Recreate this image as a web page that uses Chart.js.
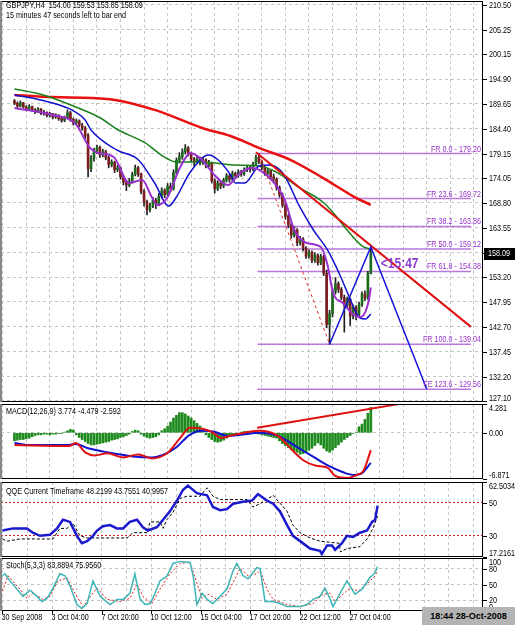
<!DOCTYPE html>
<html>
<head>
<meta charset="utf-8">
<script src="https://cdn.jsdelivr.net/npm/chart.js@4.4.0/dist/chart.umd.min.js"></script>
<style>
html, body { margin: 0; padding: 0; background: #fff; }
#wrap { position: relative; width: 515px; height: 625px; overflow: hidden;
  font-family: 'Liberation Sans', Arial, sans-serif; }
canvas { position: absolute; left: 0; }
.lbl { position: absolute; left: 6px; font-size: 9px; line-height: 10px; color: #000; white-space: pre;
  transform: scaleX(0.8); transform-origin: 0 0; }
#clock { position: absolute; left: 422px; top: 607px; width: 93px; height: 18px; background: #b4b4b4;
  font: bold 9px 'Liberation Sans', Arial, sans-serif; line-height: 18px; text-align: center; color: #000; }
</style>
</head>
<body>
<div id="wrap">
  <canvas id="cMain" width="515" height="404" style="top:0"></canvas>
  <canvas id="cMacd" width="515" height="77" style="top:403px"></canvas>
  <canvas id="cQqe" width="515" height="78" style="top:480px"></canvas>
  <canvas id="cStoch" width="515" height="68" style="top:557px"></canvas>
  <div class="lbl" style="top:0">GBPJPY,H4  154.00 159.53 153.85 158.09</div>
  <div class="lbl" style="top:10px">15 minutes 47 seconds left to bar end</div>
  <div class="lbl" style="top:406px">MACD(12,26,9) 3.774 -4.479 -2.592</div>
  <div class="lbl" style="top:486px">QQE Current Timeframe 48.2199 43.7551 40.9957</div>
  <div class="lbl" style="top:560px">Stoch(5,3,3) 83.8894 75.9560</div>
  <div id="clock">18:44 28-Oct-2008</div>
</div>
<script>
const FONT = "'Liberation Sans',Arial,sans-serif";
const TEXT_SX = 0.8; // MT4 labels are narrower than Arial

// x axis: bar index, 16 bars between time labels
const X_MIN = -0.48, X_MAX = 155;
const X_LABELS = ['30 Sep 2008', '3 Oct 04:00', '7 Oct 20:00', '10 Oct 12:00', '15 Oct 04:00', '17 Oct 20:00', '22 Oct 12:00', '27 Oct 04:00'];

// GBPJPY H4 candles
const OPEN = [
  190.3,189.8,189.2,189.9,189.0,188.6,189.1,188.4,188.0,188.6,
  187.7,187.9,187.2,187.6,186.9,187.3,186.6,186.2,186.8,187.8,
  186.4,185.6,186.1,185.2,184.6,183.0,176.0,178.2,179.8,180.5,
  178.9,179.6,178.4,176.9,177.4,175.8,176.2,174.3,173.2,172.6,
  173.4,174.8,176.2,174.9,171.2,169.0,167.4,168.2,169.4,168.6,
  170.2,171.4,170.6,172.3,171.8,175.2,177.8,178.6,179.6,180.4,
  179.2,178.0,177.4,178.2,177.3,177.9,176.8,177.2,173.5,171.8,
  173.0,172.4,173.6,174.5,173.8,175.0,174.6,175.4,174.9,175.8,
  176.3,175.9,177.0,178.4,177.5,176.2,175.0,175.6,174.3,173.8,
  172.0,170.5,168.4,166.0,164.2,162.0,163.1,160.4,161.2,159.3,
  157.6,158.4,156.7,157.8,156.2,157.5,154.0,143.2,145.5,150.2,
  151.8,150.6,148.9,147.2,148.5,145.0,146.8,145.3,147.4,149.6,
  148.8,154.00];
const HIGH = [
  190.6,190.1,190.3,190.0,189.3,189.5,189.2,188.7,188.9,188.7,
  188.3,188.0,187.9,187.7,187.6,187.4,186.9,187.1,188.4,188.1,
  186.7,186.5,186.3,185.6,184.9,183.4,178.8,180.3,181.0,180.8,
  180.1,179.9,178.7,177.9,177.6,176.8,176.4,174.6,173.6,174.0,
  175.3,176.8,176.5,175.1,171.6,169.4,168.8,170.0,169.8,170.8,
  172.0,171.8,172.9,173.0,175.8,178.3,179.4,180.2,181.1,180.7,
  179.5,178.4,178.8,178.5,178.4,178.1,177.8,177.4,173.9,173.5,
  173.3,174.0,175.0,174.8,175.5,175.3,175.8,175.7,176.2,176.8,
  176.6,177.4,178.9,179.2,177.8,176.5,176.0,175.8,174.9,174.1,
  172.4,170.9,168.8,166.4,164.6,163.8,163.4,161.8,161.5,159.6,
  158.9,158.7,158.3,158.1,158.0,157.8,154.7,146.2,150.9,153.1,
  152.2,151.0,149.4,149.0,148.8,147.3,147.2,147.9,150.1,150.3,
  154.4,159.53];
const LOW = [
  189.5,188.9,189.0,188.8,188.2,188.4,188.1,187.6,187.8,187.4,
  187.3,186.9,186.9,186.5,186.6,186.2,185.8,185.9,186.5,186.0,
  185.2,185.3,184.8,184.1,182.4,174.3,175.4,177.6,179.2,178.4,
  178.5,177.9,176.2,176.4,175.2,175.4,173.8,172.6,171.4,172.2,
  173.0,174.5,174.4,170.7,168.2,166.3,166.9,167.8,167.6,168.2,
  169.8,169.9,170.3,171.2,171.5,174.8,177.2,178.0,179.1,178.7,
  177.5,176.6,177.0,176.8,176.9,176.2,176.4,173.0,170.9,171.4,
  171.8,172.0,173.2,173.2,173.5,174.0,174.2,174.4,174.6,175.4,
  175.3,175.6,176.7,177.1,175.8,174.6,174.7,173.9,173.3,171.5,
  170.0,167.9,165.4,163.6,161.4,161.6,159.8,159.9,158.7,157.1,
  157.2,156.2,156.3,155.7,155.8,153.5,142.5,139.04,144.8,149.6,
  149.9,148.4,141.6,146.6,143.0,144.4,144.2,144.9,147.0,148.2,
  148.5,153.85];
const CLOSE = [
  189.8,189.2,189.9,189.0,188.6,189.1,188.4,188.0,188.6,187.7,
  187.9,187.2,187.6,186.9,187.3,186.6,186.2,186.8,187.8,186.4,
  185.6,186.1,185.2,184.6,183.0,176.0,178.2,179.8,180.5,178.9,
  179.6,178.4,176.9,177.4,175.8,176.2,174.3,173.2,172.6,173.4,
  174.8,176.2,174.9,171.2,169.0,167.4,168.2,169.4,168.6,170.2,
  171.4,170.6,172.3,171.8,175.2,177.8,178.6,179.6,180.4,179.2,
  178.0,177.4,178.2,177.3,177.9,176.8,177.2,173.5,171.8,173.0,
  172.4,173.6,174.5,173.8,175.0,174.6,175.4,174.9,175.8,176.3,
  175.9,177.0,178.4,177.5,176.2,175.0,175.6,174.3,173.8,172.0,
  170.5,168.4,166.0,164.2,162.0,163.1,160.4,161.2,159.3,157.6,
  158.4,156.7,157.8,156.2,157.5,154.0,143.2,145.5,150.2,151.8,
  150.6,148.9,147.2,148.5,145.0,146.8,145.3,147.4,149.6,148.8,
  154.0,158.09];

// moving averages [bar, price]
const RED_MA = [[0,191.55],[13,191.1],[31.5,190.7],[47.6,188.4],[63.7,184.6],[73.4,182.9],[83,180.4],[93.7,177.9],[104.7,174.1],[115.3,170.1],[121,168.4]];
const GREEN_MA = [[0,192.81],[9.8,191.55],[20.8,189.02],[29.2,186.7],[34.7,184.38],[44.4,181.44],[50.8,178.49],[55,177.43],[63.7,177.43],[74.4,176.8],[83.1,176.59],[89.5,175.12],[96.9,171.96],[104.7,169.0],[108.9,166.27],[112.1,163.74],[118.5,159.53],[121,159.11]];
const BLUE_MA = [[0,191.55],[8.9,190.5],[19.5,188.39],[24,186.28],[26,184.17],[34.7,179.96],[42.1,177.86],[47.6,173.01],[52.4,168.17],[55,170.06],[59.5,175.12],[66,178.91],[69.2,177.86],[73.4,174.7],[75,173.01],[78.2,173.01],[83.1,176.6],[86.3,176.8],[91.1,175.12],[96.9,167.96],[101.5,163.11],[106.3,158.9],[110.5,153.63],[113.7,149.0],[117.3,144.58],[119.2,144.37],[121,145.42]];
const PURPLE_MA = [[0,188.81],[13,187.33],[20.8,185.4],[25.5,180.5],[28,179.4],[33.7,178.49],[38.9,173.01],[43.4,173.64],[46.6,170.06],[48.5,168.38],[51.8,169.85],[56.3,176.38],[59.8,179.33],[63.7,177.86],[67.9,174.7],[72.4,172.59],[76.6,175.12],[80.8,176.17],[83.1,175.75],[87.3,173.64],[91.8,169.43],[95,163.11],[99.2,160.37],[104,159.53],[106.3,155.74],[108.2,149.84],[111.5,147.74],[115.3,145.21],[117.6,144.79],[120.2,147.95],[121,151.0]];

// drawn objects
const TREND = [[82,179.5],[155,142.7]];
const FIB_DIAG = [[83,179.20],[107,139.04]];
const PROJ = [[107,139.04],[121,159.53],[140,129.56]];
const FIB_START = 82.5;
const FIB_NAMES = ['FR 0.0', 'FR 23.6', 'FR 38.2', 'FR 50.0', 'FR 61.8', 'FR 100.0', 'FE 123.6'];
const FIB_LEVELS = [179.20, 169.72, 163.86, 159.12, 154.38, 139.04, 129.56];
const TIMER_TEXT = '<15:47';

const MAIN_MIN = 126.88, MAIN_MAX = 211.34;
const MAIN_TICKS = [210.50, 205.25, 200.15, 194.90, 189.65, 184.40, 179.15, 174.05, 168.80, 163.55, 158.30, 153.20, 147.95, 142.70, 137.45, 132.20, 127.10];

// MACD(12,26,9)
const MACD_MIN = -6.871, MACD_MAX = 4.281;
const MACD_HIST = [
  -1.2,-1.1,-1.0,-1.0,-0.9,-0.8,-0.6,
  -0.4,-0.3,-0.3,-0.2,-0.2,-0.3,-0.2,-0.2,-0.1,-0.1,0.1,
  0.3,0.5,0.4,
  -0.3,-0.7,-1.0,-1.3,-1.6,-1.8,-1.8,-1.7,-1.6,-1.5,-1.4,-1.3,-1.1,-1.0,-0.9,-0.7,-0.6,-0.4,-0.2,
  0.2,0.4,0.3,
  -0.2,-0.5,-0.7,-0.8,-0.7,-0.6,-0.3,
  0.3,0.6,1.0,1.6,2.2,2.6,3.0,3.0,2.8,2.5,2.2,1.8,1.4,1.0,0.6,
  -0.3,-0.7,-1.0,-1.3,-1.4,-1.3,-1.1,-0.8,-0.5,
  -0.3,-0.2,-0.1,0.1,0.2,0.2,0.1,0.1,-0.1,-0.2,
  -0.3,-0.4,-0.5,-0.6,-0.7,-0.8,-1.2,-1.6,-1.9,-2.2,-2.5,-2.7,-2.9,-3.2,-3.1,-2.9,-2.6,-2.3,-1.9,-1.5,
  -1.8,-2.3,-2.7,-2.9,-2.6,-2.2,-1.8,-1.4,-1.0,-0.7,-0.4,-0.1,0.1,0.9,1.3,2.0,2.9,3.774];
const MACD_BLUE = [[0,-1.53],[5.6,-1.83],[18.5,-1.83],[20.8,-1.68],[25,-2.29],[31.5,-2.9],[40.2,-3.51],[46.6,-3.66],[50.8,-3.21],[55,-2.14],[59.5,-0.31],[63.7,0.31],[67.9,0.15],[72.4,-0.46],[76.6,-0.31],[83.1,0],[89.5,-0.46],[96,-2.14],[102.4,-3.82],[106.6,-4.89],[112.1,-5.95],[115.3,-6.26],[117.6,-6.11],[121,-4.48]];
const MACD_RED = [[0,-1.83],[18.5,-1.98],[20.8,-1.53],[24,-2.9],[27.3,-3.36],[31.5,-3.05],[36.9,-3.66],[42.1,-3.21],[46.6,-3.82],[51.8,-3.05],[56.3,-0.76],[59.5,0.76],[63.7,0.61],[66.9,0.15],[70.2,-0.76],[74.4,-0.31],[83.1,0.31],[89.5,-0.46],[93.7,-2.29],[98.2,-4.12],[102.4,-4.89],[106.3,-5.19],[108.9,-6.41],[113.1,-6.72],[116.3,-6.26],[118.5,-5.65],[121,-2.59]];
const MACD_TREND = [[82.4,0.76],[130.5,4.27]];

// QQE
const QQE_MIN = 17.2161, QQE_MAX = 62.5034;
const QQE_LEVELS = [50, 30];
const QQE_RSI = [[0,33.2],[3.4,34.5],[7.9,34.5],[9.8,31.9],[12.1,30.0],[15.3,30.6],[17.6,34.5],[19.5,39.7],[21.8,38.4],[24,30.0],[25.6,25.5],[27.3,26.8],[29.2,30.0],[30.5,33.2],[32.4,35.8],[34.7,36.5],[36.9,34.5],[38.9,34.5],[41.1,38.4],[43.4,39.7],[45.3,35.2],[46.9,33.2],[49.8,35.2],[51.8,39.7],[54,44.8],[56.3,51.3],[58.2,57.7],[59.8,60.3],[62.7,55.8],[66,54.5],[67.9,47.4],[70.2,45.5],[72.4,46.1],[74.4,49.4],[77.6,50.6],[80.5,51.3],[82.4,55.2],[85.3,51.3],[87.3,49.4],[89.5,44.8],[91.8,36.5],[93.7,30.0],[96,26.8],[99.2,22.3],[102.4,21.0],[103,19.0],[104.7,24.2],[106.3,24.2],[107.3,21.6],[109.5,25.5],[111.1,30.0],[113.1,29.4],[115.3,31.9],[117.6,33.2],[119.2,38.4],[120.2,39.7],[121,48.22]];
const QQE_TRAIL = [[0,28.1],[1.5,26.8],[5.6,28.1],[16.3,28.1],[18.5,34.5],[20.8,34.5],[22.7,37.7],[25,30.0],[27.3,28.7],[40.2,28.7],[42.1,31.9],[46.6,31.9],[47.6,38.4],[50.8,38.4],[51.8,34.5],[53,39.7],[55,44.2],[57.3,52.6],[59.5,53.9],[63.7,53.9],[66,59.0],[67.9,53.9],[70.2,51.9],[78.9,51.9],[80.8,47.4],[83.1,49.4],[87.3,54.5],[91.8,44.8],[93.7,36.5],[96,31.9],[99.2,28.7],[102.4,26.8],[108.6,25.5],[109,20.3],[111.1,22.3],[115.3,23.5],[117.6,28.1],[119.5,34.5],[121,42.0]];

// Stochastic(5,3,3)
const STOCH_LEVELS = [80, 50, 20];
const STOCH_MAIN = [[0,66.5],[0.8,70.3],[2.4,56.8],[4.7,41.3],[6.6,27.7],[8.9,39.3],[11.1,27.7],[12.7,18.0],[14.4,23.8],[16.3,43.2],[18.5,70.3],[20.2,66.5],[21.8,47.1],[24,12.2],[25.6,4.5],[27.3,14.1],[29.2,56.8],[31.5,27.7],[34.7,12.2],[36.9,21.9],[38.9,21.9],[41.1,33.5],[42.7,70.3],[44.4,21.9],[46,12.2],[47.6,14.1],[49.2,33.5],[50.8,56.8],[53.1,66.5],[55,89.7],[57.3,93.6],[60.5,91.7],[61.5,66.5],[62.7,12.2],[64.4,33.5],[66,21.9],[67.9,14.1],[70.2,27.7],[72.4,41.3],[74.4,76.2],[75.6,89.7],[77.6,66.5],[79.2,60.7],[82.1,82.0],[83.1,80.0],[84.7,18.0],[87.3,18.0],[89.5,14.1],[91.8,8.3],[96,8.3],[98.2,12.2],[100.2,21.9],[102.4,27.7],[104,43.2],[105.6,23.8],[106.6,8.3],[108.9,33.5],[111.1,56.8],[113.7,31.6],[116,41.3],[118.5,62.6],[120.2,72.3],[121,83.89]];
const STOCH_SIG = [[0,37.4],[1.8,66.5],[5.6,41.3],[7.9,23.8],[9.8,33.5],[13.1,21.9],[15.3,27.7],[17.9,56.8],[20.8,62.6],[23.4,33.5],[26,8.3],[28.9,31.6],[30.5,43.2],[33.7,21.9],[37.9,18.0],[41.1,23.8],[43.4,51.0],[45.3,27.7],[48.2,14.1],[50.8,41.3],[54,70.3],[57.3,89.7],[60.5,91.7],[62.7,52.9],[64.4,23.8],[66.3,31.6],[69.2,21.9],[72.4,31.6],[75,60.7],[76.6,80.0],[79.2,66.5],[82.1,70.3],[83.1,76.2],[85.3,41.3],[87.3,21.9],[91.8,12.2],[96,8.3],[100.2,14.1],[103.4,31.6],[105.6,33.5],[107.3,18.0],[109.8,31.6],[112.1,43.2],[114.7,37.4],[117.6,51.0],[120.2,66.5],[121,75.96]];

const GRID = '#c4c4c4';
const FIB_COLOR = '#b977db';
const FIB_TEXT = '#9933cc';

Chart.defaults.font.family = FONT;

const gridX = [];
for (let i = 0; i <= 152; i += 8) gridX.push(i);

// narrow text: ctx font/colour/baseline are set by the caller
function sText(ctx, text, x, y, align) {
    ctx.save();
    ctx.translate(x, y);
    ctx.scale(TEXT_SX, 1);
    ctx.textAlign = align || 'left';
    ctx.fillText(text, 0, 0);
    ctx.restore();
}

function xScale(axisHeight) {
    return {
        type: 'linear', min: X_MIN, max: X_MAX,
        afterBuildTicks: s => { s.ticks = gridX.map(v => ({ value: v })); },
        afterFit: s => { s.height = axisHeight; },
        grid: { color: GRID, drawTicks: false },
        border: { display: false, dash: [3, 3] },
        ticks: { display: false },
    };
}

function yScale(min, max, ticks, color, dash) {
    return {
        type: 'linear', position: 'right', min, max,
        afterBuildTicks: s => { s.ticks = ticks.map(v => ({ value: v })); },
        afterFit: s => { s.width = 32; },
        grid: { color, drawTicks: false },
        border: { display: false, dash },
        ticks: { display: false },
    };
}

function line(pts, color, width, dash, smooth) {
    return {
        type: 'line',
        data: pts.map(p => ({ x: p[0], y: p[1] })),
        borderColor: color, borderWidth: width, borderDash: dash || [],
        pointRadius: 0, fill: false,
        cubicInterpolationMode: smooth ? 'monotone' : 'default', tension: 0,
    };
}

// frame + right axis labels, MT4 style (labels kept inside the panel)
function panelFrame(values, texts, timeAxis) {
    return {
        id: 'panelFrame',
        afterDraw(chart) {
            const { ctx, chartArea: a } = chart;
            const ys = chart.scales.y;
            ctx.save();
            ctx.strokeStyle = '#000';
            ctx.lineWidth = 1;
            ctx.strokeRect(a.left + 0.5, a.top + 0.5, a.width - 1, a.height - 1);
            ctx.fillStyle = '#888';
            ctx.fillRect(0, a.top, 2, a.height);
            ctx.font = '9px ' + FONT;
            ctx.fillStyle = '#000';
            ctx.textBaseline = 'middle';
            values.forEach((v, k) => {
                const py = Math.round(ys.getPixelForValue(v)) + 0.5;
                ctx.beginPath();
                ctx.moveTo(a.right, py);
                ctx.lineTo(a.right + 4, py);
                ctx.stroke();
                const ty = Math.min(Math.max(py, a.top + 5), a.bottom - 3);
                sText(ctx, texts[k], a.right + 6, ty);
            });
            if (timeAxis) {
                const xs = chart.scales.x;
                X_LABELS.forEach((t, k) => {
                    const px = Math.round(xs.getPixelForValue(k * 16)) + 0.5;
                    ctx.beginPath();
                    ctx.moveTo(px, a.bottom);
                    ctx.lineTo(px, a.bottom + 3);
                    ctx.stroke();
                    sText(ctx, t, px - 1, a.bottom + 7);
                });
            }
            ctx.restore();
        },
    };
}

const mainExtras = {
    id: 'mainExtras',
    afterDraw(chart) {
        const { ctx, chartArea: a } = chart;
        const xs = chart.scales.x, ys = chart.scales.y;
        const last = CLOSE.length - 1;
        ctx.save();
        ctx.font = '9px ' + FONT;
        ctx.fillStyle = FIB_TEXT;
        ctx.textBaseline = 'alphabetic';
        FIB_LEVELS.forEach((lv, k) => {
            sText(ctx, FIB_NAMES[k] + ' - ' + lv.toFixed(2), a.right - 2, ys.getPixelForValue(lv) - 2, 'right');
        });
        ctx.font = 'bold 15px ' + FONT;
        ctx.textBaseline = 'top';
        ctx.fillStyle = '#8a3ccf';
        sText(ctx, TIMER_TEXT, xs.getPixelForValue(last) + 10, ys.getPixelForValue(CLOSE[last]) + 3);
        const py = Math.round(ys.getPixelForValue(CLOSE[last]));
        ctx.fillStyle = '#000';
        ctx.fillRect(a.right + 1, py - 6, 31, 12);
        ctx.fillStyle = '#fff';
        ctx.font = '9px ' + FONT;
        ctx.textBaseline = 'middle';
        sText(ctx, CLOSE[last].toFixed(2), a.right + 5, py);
        ctx.restore();
    },
};

function baseOptions(padTop, padBottom, yOpts, axisHeight) {
    return {
        responsive: false, animation: false, events: [], devicePixelRatio: 1,
        layout: { padding: { top: padTop, bottom: padBottom, left: 1, right: 0 } },
        plugins: { legend: { display: false }, tooltip: { enabled: false } },
        scales: { x: xScale(axisHeight), y: yOpts },
    };
}

// main price panel
const bodyColors = CLOSE.map((c, i) => c >= OPEN[i] ? '#1d6b1d' : '#7d1d1d');
const mainSets = [
    line(PROJ, '#1414dc', 1.5),
    line(TREND, '#e01010', 2),
    line(FIB_DIAG, '#e03030', 1, [3, 3]),
    line(PURPLE_MA, '#9b30d0', 2, null, true),
    line(BLUE_MA, '#1010d0', 1.5, null, true),
    line(GREEN_MA, '#1a801a', 1.5, null, true),
    line(RED_MA, '#e81010', 2.5, null, true),
    {
        type: 'bar', data: CLOSE.map((c, i) => ({ x: i, y: [OPEN[i], c] })),
        backgroundColor: bodyColors, barThickness: 2, grouped: false, minBarLength: 1, borderWidth: 0,
    },
    {
        type: 'bar', data: HIGH.map((h, i) => ({ x: i, y: [LOW[i], h] })),
        backgroundColor: '#202020', barThickness: 1, grouped: false, borderWidth: 0,
    },
].concat(FIB_LEVELS.map(lv => line([[FIB_START, lv], [X_MAX, lv]], FIB_COLOR, 1.5)));

new Chart(document.getElementById('cMain'), {
    type: 'line',
    data: { datasets: mainSets },
    options: baseOptions(1, 2, yScale(MAIN_MIN, MAIN_MAX, MAIN_TICKS, GRID, [3, 3]), 0),
    plugins: [panelFrame(MAIN_TICKS, MAIN_TICKS.map(v => v.toFixed(2))), mainExtras],
});

// MACD panel
new Chart(document.getElementById('cMacd'), {
    type: 'line',
    data: {
        datasets: [
            line(MACD_TREND, '#e01010', 2),
            line(MACD_RED, '#e01010', 2, null, true),
            line(MACD_BLUE, '#1010d0', 2, null, true),
            {
                type: 'bar', data: MACD_HIST.map((v, i) => ({ x: i, y: v })),
                backgroundColor: '#1e8a1e', barThickness: 2, grouped: false, borderWidth: 0,
            },
        ],
    },
    options: baseOptions(1, 1, yScale(MACD_MIN, MACD_MAX, [0], GRID, [3, 3]), 0),
    plugins: [panelFrame([MACD_MAX, 0, MACD_MIN], ['4.281', '0.00', '-6.871'])],
});

// QQE panel
new Chart(document.getElementById('cQqe'), {
    type: 'line',
    data: {
        datasets: [
            line(QQE_RSI, '#1a1acc', 2.5),
            line(QQE_TRAIL, '#000', 1, [3, 2]),
        ],
    },
    options: baseOptions(2, 1, yScale(QQE_MIN, QQE_MAX, QQE_LEVELS, '#d42020', [2, 2]), 0),
    plugins: [panelFrame([QQE_MAX, 50, 30, QQE_MIN], ['62.5034', '50', '30', '17.2161'])],
});

// Stochastic panel with time axis
new Chart(document.getElementById('cStoch'), {
    type: 'line',
    data: {
        datasets: [
            line(STOCH_MAIN, '#3cb4b4', 1.5),
            line(STOCH_SIG, '#e02020', 1, [2, 2]),
        ],
    },
    options: baseOptions(1, 0, yScale(0, 100, STOCH_LEVELS, GRID, [3, 3]), 14),
    plugins: [panelFrame([100, 80, 50, 20, 0], ['100', '80', '50', '20', '0'], true)],
});
</script>
</body>
</html>
